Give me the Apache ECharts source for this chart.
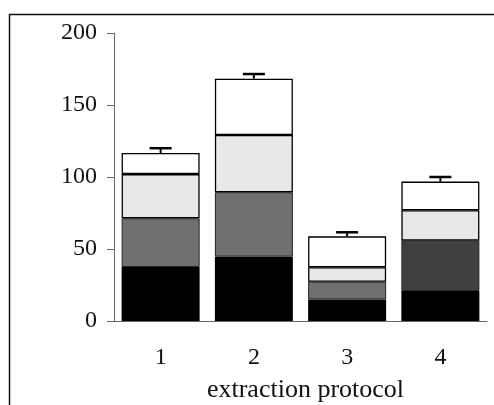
<!DOCTYPE html>
<html>
<head>
<meta charset="utf-8">
<script src="https://cdn.jsdelivr.net/npm/echarts@6/dist/echarts.min.js"></script>
<style>
  html, body { margin: 0; padding: 0; background: #fff; }
  #main { width: 494px; height: 405px; }
</style>
</head>
<body>
<div id="main"></div>
<script type="text/javascript">
    // data
    var protocols = ['1', '2', '3', '4'];
    var part1 = [37.5, 44.7, 15.0, 20.8];
    var part2 = [33.8, 44.7, 12.3, 35.0];
    var part3 = [30.7, 39.8, 10.0, 21.1];
    var part4 = [14.7, 39.1, 21.5, 19.9];
    var errTop = [3.3, 3.2, 2.8, 3.2];
    var yTicks = [0, 50, 100, 150, 200];

    var totals = protocols.map(function (p, i) {
        return part1[i] + part2[i] + part3[i] + part4[i];
    });

    var myChart = echarts.init(document.getElementById('main'));
    var font = '"Liberation Serif", "DejaVu Serif", serif';

    // bar 4 has a darker second segment
    var part2Data = part2.map(function (v, i) {
        return { value: v, itemStyle: { color: i === 3 ? '#404040' : '#707070' } };
    });

    var option = {
        animation: false,
        grid: { left: 114, right: 7, top: 33, bottom: 84, outerBoundsMode: 'none' },
        graphic: [{
            type: 'rect',
            shape: { x: 9.5, y: 14.5, width: 520, height: 420 },
            style: { fill: 'none', stroke: '#111', lineWidth: 1.5 },
            silent: true
        }],
        xAxis: {
            type: 'category',
            data: protocols,
            name: 'extraction protocol',
            nameLocation: 'middle',
            nameGap: 56,
            nameTextStyle: { fontFamily: font, fontSize: 26, color: '#111', padding: [0, 0, 0, 10] },
            axisLine: { lineStyle: { color: '#666', width: 1 } },
            axisTick: { show: false },
            axisLabel: { fontFamily: font, fontSize: 24, color: '#111', margin: 25 }
        },
        yAxis: {
            type: 'value',
            min: yTicks[0],
            max: yTicks[yTicks.length - 1],
            interval: 50,
            splitLine: { show: false },
            axisLine: { show: true, lineStyle: { color: '#666', width: 1 } },
            axisTick: { show: true, length: 7, lineStyle: { color: '#666' } },
            axisLabel: { fontFamily: font, fontSize: 24, color: '#111', margin: 17 }
        },
        series: [{
            type: 'bar',
            stack: 'a',
            barWidth: 78,
            data: part1,
            itemStyle: { color: '#000', borderColor: '#000', borderWidth: 0 }
        }, {
            type: 'bar',
            stack: 'a',
            data: part2Data,
            itemStyle: { borderColor: '#222', borderWidth: 1 }
        }, {
            type: 'bar',
            stack: 'a',
            data: part3,
            itemStyle: { color: '#e8e8e8', borderColor: '#000', borderWidth: 1.3 }
        }, {
            type: 'bar',
            stack: 'a',
            data: part4,
            itemStyle: { color: '#fff', borderColor: '#000', borderWidth: 1.3 }
        }, {
            type: 'custom',
            data: totals.map(function (t, i) { return [i, t, t + errTop[i]]; }),
            z: 10,
            renderItem: function (params, api) {
                var x = api.value(0);
                var p0 = api.coord([x, api.value(1)]);
                var p1 = api.coord([x, api.value(2)]);
                var half = 11;
                return {
                    type: 'group',
                    children: [{
                        type: 'line',
                        shape: { x1: p0[0], y1: p0[1], x2: p1[0], y2: p1[1] },
                        style: { stroke: '#000', lineWidth: 2 }
                    }, {
                        type: 'line',
                        shape: { x1: p1[0] - half, y1: p1[1], x2: p1[0] + half, y2: p1[1] },
                        style: { stroke: '#000', lineWidth: 2.5 }
                    }]
                };
            }
        }]
    };

    myChart.setOption(option);
</script>
</body>
</html>
